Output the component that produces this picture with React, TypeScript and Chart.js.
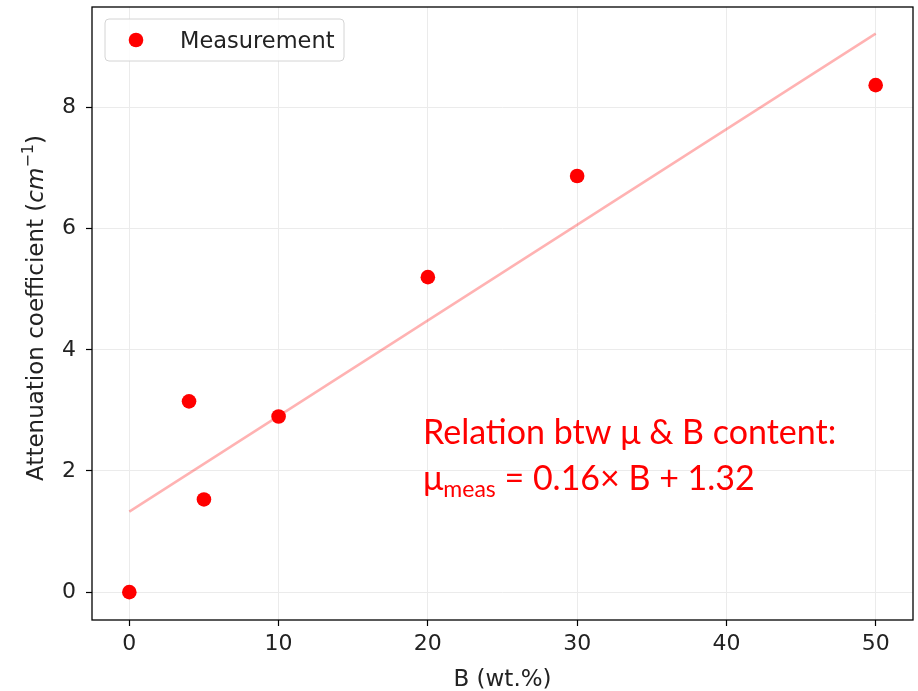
import React, { useEffect, useRef } from "react";
import { Chart, registerables } from "chart.js";

Chart.register(...registerables);

const boronContent = [0, 4, 5, 10, 20, 30, 50];
const attenuation = [0, 3.15, 1.53, 2.9, 5.2, 6.87, 8.37];
const fitX = [0, 50];
const fitY = [1.33, 9.22];
const xTicks = [0, 10, 20, 30, 40, 50];
const yTicks = [0, 2, 4, 6, 8];
const seriesLabel = "Measurement";
const xTitle = "B (wt.%)";
const yTitleMain = "Attenuation coefficient (";
const annotationLine1 = "Relation btw μ & B content:";
const annotationLine2 = " = 0.16× B + 1.32";

const TICK_FONT = "DejaVu Sans";
const ANN_FONT = "Lato";

const decorPlugin = {
  id: "decor",
  afterDraw(chart: any) {
    const { ctx, chartArea } = chart;
    const { left, right, top, bottom } = chartArea;
    ctx.save();
    // frame
    ctx.strokeStyle = "#000";
    ctx.lineWidth = 1.3;
    ctx.strokeRect(left, top, right - left, bottom - top);

    // legend
    const lx = 105, ly = 19, lw = 239, lh = 42, r = 4;
    ctx.beginPath();
    ctx.moveTo(lx + r, ly);
    ctx.lineTo(lx + lw - r, ly);
    ctx.quadraticCurveTo(lx + lw, ly, lx + lw, ly + r);
    ctx.lineTo(lx + lw, ly + lh - r);
    ctx.quadraticCurveTo(lx + lw, ly + lh, lx + lw - r, ly + lh);
    ctx.lineTo(lx + r, ly + lh);
    ctx.quadraticCurveTo(lx, ly + lh, lx, ly + lh - r);
    ctx.lineTo(lx, ly + r);
    ctx.quadraticCurveTo(lx, ly, lx + r, ly);
    ctx.closePath();
    ctx.fillStyle = "rgba(255,255,255,0.85)";
    ctx.fill();
    ctx.strokeStyle = "#d4d4d4";
    ctx.lineWidth = 1;
    ctx.stroke();
    ctx.beginPath();
    ctx.arc(136, 40, 7.3, 0, Math.PI * 2);
    ctx.fillStyle = "#ff0000";
    ctx.fill();
    ctx.fillStyle = "#222";
    ctx.font = `22.5px "${TICK_FONT}"`;
    ctx.textBaseline = "alphabetic";
    ctx.textAlign = "left";
    ctx.fillText(seriesLabel, 180, 48);

    // x title
    ctx.font = `23px "${TICK_FONT}"`;
    ctx.textAlign = "center";
    ctx.fillText(xTitle, (left + right) / 2, 686);

    // y title
    ctx.save();
    ctx.translate(43, 308);
    ctx.rotate(-Math.PI / 2);
    const fMain = `23px "${TICK_FONT}"`;
    const fIt = `italic 23px "${TICK_FONT}"`;
    const fSup = `16px "${TICK_FONT}"`;
    ctx.font = fMain;
    const w1 = ctx.measureText(yTitleMain).width;
    ctx.font = fIt;
    const w2 = ctx.measureText("cm").width;
    ctx.font = fSup;
    const w3 = ctx.measureText("−1").width;
    ctx.font = fMain;
    const w4 = ctx.measureText(")").width;
    const total = w1 + w2 + w3 + w4;
    let x = -total / 2;
    ctx.textAlign = "left";
    ctx.font = fMain;
    ctx.fillText(yTitleMain, x, 0);
    x += w1;
    ctx.font = fIt;
    ctx.fillText("cm", x, 0);
    x += w2;
    ctx.font = fSup;
    ctx.fillText("−1", x, -10);
    x += w3;
    ctx.font = fMain;
    ctx.fillText(")", x, 0);
    ctx.restore();

    // annotation
    ctx.fillStyle = "#ff0000";
    ctx.textAlign = "left";
    ctx.font = `34px "${ANN_FONT}"`;
    ctx.fillText(annotationLine1, 423, 444);
    ctx.fillText("μ", 423, 490);
    const mw = ctx.measureText("μ").width;
    ctx.font = `23px "${ANN_FONT}"`;
    ctx.fillText("meas", 423 + mw, 497);
    const sw = ctx.measureText("meas").width;
    ctx.font = `34px "${ANN_FONT}"`;
    ctx.fillText(annotationLine2, 423 + mw + sw, 490);
    ctx.restore();
  },
};

export default function App() {
  const ref = useRef<HTMLCanvasElement>(null);
  useEffect(() => {
    if (!ref.current) return;
    const chart = new Chart(ref.current, {
      type: "scatter",
      data: {
        datasets: [
          {
            label: seriesLabel,
            data: boronContent.map((x, i) => ({ x, y: attenuation[i] })),
            backgroundColor: "#ff0000",
            borderColor: "#ff0000",
            pointRadius: 7.3,
            pointBorderWidth: 0,
          },
          {
            label: "fit",
            data: fitX.map((x, i) => ({ x, y: fitY[i] })),
            showLine: true,
            borderColor: "rgba(255,0,0,0.3)",
            borderWidth: 2.5,
            pointRadius: 0,
          },
        ],
      },
      options: {
        animation: false,
        responsive: false,
        maintainAspectRatio: false,
        layout: { autoPadding: false, padding: { top: 7, right: 5, left: 0, bottom: 0 } },
        plugins: { legend: { display: false }, tooltip: { enabled: false } },
        scales: {
          x: {
            type: "linear",
            min: -2.5,
            max: 52.5,
            afterBuildTicks: (s: any) => {
              s.ticks = xTicks.map((v) => ({ value: v }));
            },
            afterFit: (s: any) => {
              s.height = 71;
              s.paddingLeft = 0;
              s.paddingRight = 0;
            },
            grid: { color: "#ebebeb", lineWidth: 1, tickColor: "#000", tickLength: 6, tickWidth: 1.2 },
            border: { display: false },
            ticks: { color: "#222", font: { family: TICK_FONT, size: 22 }, padding: 5, maxRotation: 0 },
          },
          y: {
            type: "linear",
            min: -0.46,
            max: 9.66,
            afterBuildTicks: (s: any) => {
              s.ticks = yTicks.map((v) => ({ value: v }));
            },
            afterFit: (s: any) => {
              s.width = 92;
              s.paddingTop = 0;
              s.paddingBottom = 0;
            },
            grid: { color: "#ebebeb", lineWidth: 1, tickColor: "#000", tickLength: 6, tickWidth: 1.2 },
            border: { display: false },
            ticks: { color: "#222", font: { family: TICK_FONT, size: 22 }, padding: 10 },
          },
        },
      },
      plugins: [decorPlugin],
    });
    return () => chart.destroy();
  }, []);
  return (
    <div style={{ position: "absolute", left: 0, top: 0, width: 918, height: 691, background: "#fff" }}>
      <canvas ref={ref} width={918} height={691} />
    </div>
  );
}
